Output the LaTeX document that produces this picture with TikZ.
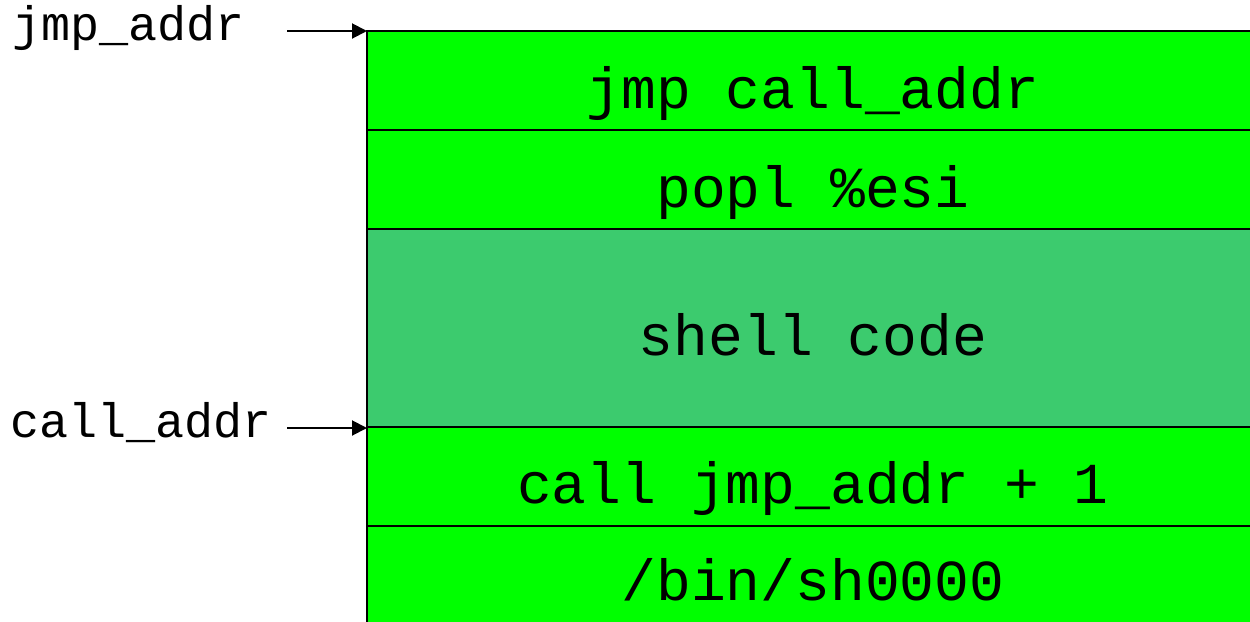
\documentclass[tikz,border=0pt]{standalone}
\usepackage{fontspec}
\setmonofont{Liberation Mono}
\usetikzlibrary{arrows.meta}
\definecolor{cellgreen}{RGB}{0,255,0}
\definecolor{codegreen}{RGB}{60,203,110}
\tikzset{
  cell/.style={draw=black, line width=1pt},
  celltext/.style={anchor=base, inner sep=0pt, font=\fontsize{29}{29}\selectfont\ttfamily},
  addrtext/.style={anchor=base west, inner sep=0pt, font=\fontsize{24.2}{24.2}\selectfont\ttfamily},
  pointer/.style={line width=1pt, -{Triangle[length=7.5pt,width=7.5pt]}}
}
\begin{document}
\begin{tikzpicture}[x=0.5pt,y=-0.5pt]
  \useasboundingbox (0,0) rectangle (1250,622);
  \begin{scope}
    \clip (0,0) rectangle (1250,622);
    % stack of memory cells
    \path[cell, fill=cellgreen] (367,31) rectangle (1259,130);
    \path[cell, fill=cellgreen] (367,130) rectangle (1259,229);
    \path[cell, fill=codegreen] (367,229) rectangle (1259,427);
    \path[cell, fill=cellgreen] (367,427) rectangle (1259,526);
    \path[cell, fill=cellgreen] (367,526) rectangle (1259,640);
  \end{scope}
  \coordinate (jtop) at (367,31);
  \coordinate (ctop) at (367,428);
  % cell contents
  \node[celltext] (t1) at (813,108) {jmp call\_addr};
  \node[celltext] (t2) at (813,207) {popl \%esi};
  \node[celltext] (t3) at (813,355) {shell code};
  \node[celltext] (t4) at (813,503) {call jmp\_addr + 1};
  \node[celltext] (t5) at (813,600) {/bin/sh0000};
  % address labels and pointers
  \node[addrtext] (ja) at (12,40) {jmp\_addr};
  \node[addrtext] (ca) at (10,437) {call\_addr};
  \coordinate (js) at (287,31);
  \coordinate (cs) at (287,428);
  \draw[pointer] (js) -- (jtop);
  \draw[pointer] (cs) -- (ctop);
\end{tikzpicture}
\end{document}
